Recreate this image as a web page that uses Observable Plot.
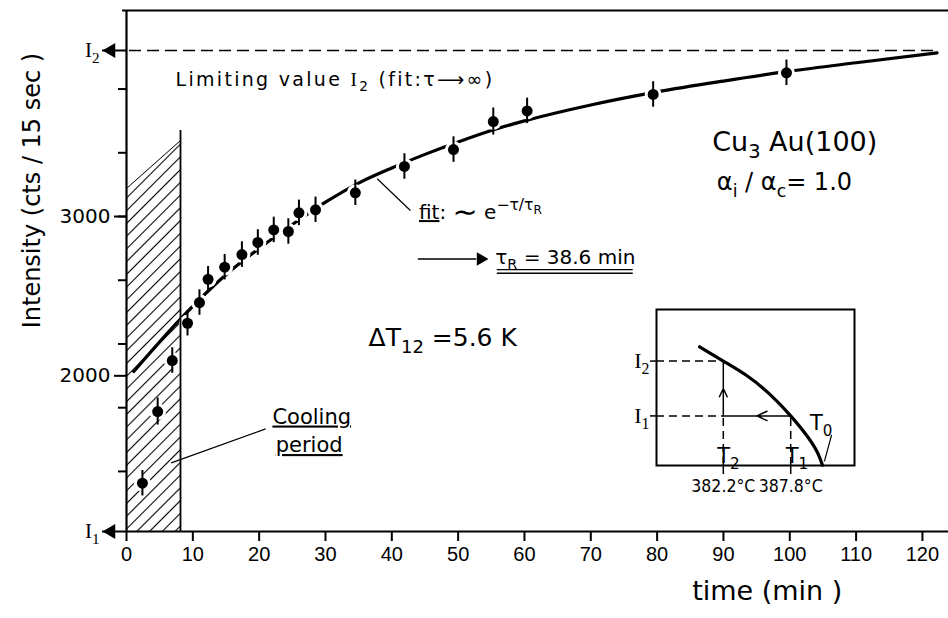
<!DOCTYPE html>
<html><head><meta charset="utf-8">
<script src="https://cdn.jsdelivr.net/npm/d3@7"></script>
<script src="https://cdn.jsdelivr.net/npm/@observablehq/plot@0.6"></script>
<style>
body{margin:0;background:#fff}
#chart{position:relative;width:948px;height:618px;overflow:hidden}
#inset{position:absolute;left:620px;top:300px}
</style>
</head><body><div id="chart"><div id="inset"></div></div>
<script>
// ---- data ----
const times  = [2.4, 4.7, 6.9, 9.2, 11.0, 12.3, 14.8, 17.4, 19.8, 22.2, 24.4, 26.0, 28.5, 34.5, 41.9, 49.3, 55.3, 60.4, 79.4, 99.5];
const counts = [1326, 1776, 2096, 2330, 2460, 2606, 2682, 2761, 2837, 2916, 2906, 3023, 3042, 3149, 3314, 3420, 3596, 3663, 3766, 3902];
const errors = [80, 85, 80, 80, 80, 80, 80, 80, 80, 80, 80, 80, 80, 80, 80, 80, 85, 80, 80, 80];

const fitT = [1.1, 8.4, 12, 16, 20, 25, 30, 35, 40, 45, 50, 55, 60, 70, 80, 90, 100, 110, 122.2];
const fitI = [2027, 2368, 2520, 2670, 2800, 2950, 3090, 3210, 3305, 3390, 3468, 3540, 3600, 3700, 3782, 3850, 3912, 3965, 4027];

const I1 = 1023, I2 = 4042;
const xTicks = [0, 10, 20, 30, 40, 50, 60, 70, 80, 90, 100, 110, 120];
const yMajor = [2000, 3000];
const yMinor = [1400, 1800, 2200, 2600, 3000, 3400, 3800];
const coolingT = [0, 8.14];
const coolingTop = [3176, 3477];
const coolingBarTop = 3540;

// inset (schematic intensity vs temperature)
const insetT = [380.23, 382.2, 384.2, 386.14, 387.8, 389.19, 390.02, 390.44];
const insetI = [2.26, 2.0, 1.727, 1.38, 1.0, 0.624, 0.333, 0.1];
const T2 = 382.2, T1 = 387.8;
const tempLabels = ["382.2°C", "387.8°C"];

// ---- build tables ----
const points = times.map((t, i) => ({t, c: counts[i], lo: counts[i] - errors[i], hi: counts[i] + errors[i]}));
const fit = fitT.map((t, i) => ({t, c: fitI[i]}));
const cooling = coolingT.map((t, i) => ({t, top: coolingTop[i]}));
const insetCurve = insetT.map((T, i) => ({T, I: insetI[i]}));

const xDomain = [0, 123.93], yDomain = [I1, 4293];

const annotations = [
  {text: "Limiting value @{I}_{2} (fit:τ⟶∞)", x: 7.4, y: 3860, size: 19, ls: 2.3},
  {text: "|{fit}: *{∼} e^{−τ/τ}~{R}", x: 44.1, y: 3024, size: 20},
  {text: "τ_{R} = 38.6 min", x: 55.6, y: 2745, size: 20},
  {text: "Cu_{3} Au(100)", x: 88.3, y: 3468, size: 27},
  {text: "α_{i} / α_{c}= 1.0", x: 89.0, y: 3216, size: 24},
  {text: "ΔT_{12} =5.6 K", x: 36.5, y: 2238, size: 25},
  {text: "|{Cooling}", x: 22.0, y: 1743, size: 21},
  {text: "|{period}", x: 22.5, y: 1564, size: 21}
];

const main = Plot.plot({
  width: 948, height: 618,
  marginLeft: 126, marginRight: 0, marginTop: 10, marginBottom: 87,
  x: {domain: xDomain, label: null},
  y: {domain: yDomain, label: null},
  style: {fontFamily: "DejaVu Sans", background: "white", color: "black", overflow: "visible"},
  marks: [
    Plot.areaY(cooling, {x: "t", y1: I1, y2: "top", fill: "url(#hatch)"}),
    Plot.line(cooling, {x: "t", y: "top", stroke: "black", strokeWidth: 1}),
    Plot.line(fit, {x: "t", y: "c", curve: "monotone-x", stroke: "black", strokeWidth: 3.2}),
    Plot.dot(points, {x: "t", y: "c", r: 8.5, fill: "white"}),
    Plot.ruleX([coolingT[1]], {y1: I1, y2: coolingBarTop, strokeWidth: 1.8}),
    Plot.ruleX(points, {x: "t", y1: "lo", y2: "hi", strokeWidth: 2}),
    Plot.dot(points, {x: "t", y: "c", r: 5.5, fill: "black"}),
    Plot.ruleY([I2], {x1: 0.45, x2: 122.2, strokeDasharray: "12,6", strokeWidth: 1.6}),
    // frame
    Plot.ruleY([yDomain[1]], {x1: -0.6, x2: xDomain[1], strokeWidth: 2.2}),
    Plot.ruleX([0], {strokeWidth: 2.2}),
    Plot.ruleY([yDomain[0]], {strokeWidth: 2.2}),
    // axes
    Plot.axisX(xTicks, {tickSize: 10, tickPadding: 5, fontSize: 20, fontFamily: "Liberation Sans", tickFormat: d => String(d), strokeWidth: 2, label: null}),
    Plot.axisY(yMinor, {tickSize: 8, tickFormat: () => "", strokeWidth: 2, label: null}),
    Plot.axisY(yMajor, {tickSize: 12, tickPadding: 4, fontSize: 20, tickFormat: d => String(d), strokeWidth: 2, label: null}),
    Plot.axisY([I1, I2], {tickSize: 24, tickPadding: 3, fontSize: 21, fontFamily: "Liberation Serif",
      tickFormat: d => d === I1 ? "I_{1}" : "I_{2}", strokeWidth: 2, label: null}),
    Plot.dot([I1, I2], {x: 0, y: d => d, symbol: "triangle", rotate: -90, r: 5.5, dx: -15.5, fill: "black"}),
    // axis titles
    Plot.text([{label: "Intensity (cts / 15 sec )", y: 3163}], {frameAnchor: "left", textAnchor: "middle", y: "y", text: "label", rotate: -90, dx: -94.5, fontSize: 24}),
    Plot.text([{label: "time (min )", x: 96.6}], {frameAnchor: "bottom", x: "x", text: "label", dy: 68.4, fontSize: 27}),
    // annotations
    ...annotations.map(a => Plot.text([a], {x: "x", y: "y", text: "text", fontSize: a.size, textAnchor: "start"})),
    Plot.ruleY([2734], {x1: 44.0, x2: 52.8, strokeWidth: 1.5}),
    Plot.dot([2734], {x: 53.4, y: d => d, symbol: "triangle", rotate: 90, r: 5, fill: "black"}),
    Plot.ruleY([2667, 2644], {x1: 55.9, x2: 76.4, strokeWidth: 1.3}),
    Plot.link([{x1: 37.8, y1: 3237, x2: 42.8, y2: 3038}, {x1: 6.74, y1: 1454, x2: 20.97, y2: 1667}],
      {x1: "x1", y1: "y1", x2: "x2", y2: "y2", strokeWidth: 1.2})
  ]
});

const inset = Plot.plot({
  width: 240, height: 205,
  marginLeft: 36, marginRight: 6, marginTop: 9, marginBottom: 40,
  x: {domain: [376.65, 393.1], label: null},
  y: {domain: [0.096, 2.94], label: null},
  style: {fontFamily: "DejaVu Sans", background: "none", color: "black", overflow: "visible"},
  marks: [
    Plot.frame({fill: "white"}),
    Plot.ruleY([2, 1], {x1: 376.65, x2: T2, strokeDasharray: "8,5", strokeWidth: 1.5}),
    Plot.ruleX([T2, T1], {y1: 0.096, y2: 1, strokeDasharray: "8,5", strokeWidth: 1.5}),
    Plot.arrow([{x1: T1, x2: 385.0, y1: 1, y2: 1}], {x1: "x1", x2: "x2", y1: "y1", y2: "y2", headLength: 11, headAngle: 50, strokeWidth: 1.5}),
    Plot.ruleY([1], {x1: 385.1, x2: T2, strokeWidth: 1.5}),
    Plot.arrow([{x1: T2, x2: T2, y1: 1, y2: 1.5}], {x1: "x1", x2: "x2", y1: "y1", y2: "y2", headLength: 11, headAngle: 50, strokeWidth: 1.5}),
    Plot.ruleX([T2], {y1: 1.5, y2: 2, strokeWidth: 1.5}),
    Plot.line(insetCurve, {x: "T", y: "I", curve: "natural", strokeWidth: 3.2}),
    Plot.frame({strokeWidth: 2}),
    Plot.axisY([1, 2], {tickSize: 6, tickPadding: 1, fontSize: 22, fontFamily: "Liberation Serif",
      tickFormat: d => d === 1 ? "I_{1}" : "I_{2}", strokeWidth: 1.5, label: null}),
    Plot.axisX([T2, T1], {tickSize: 9, tickPadding: 5, fontSize: 17.5, fontFamily: "DejaVu Sans Condensed, DejaVu Sans",
      tickFormat: d => d === T2 ? tempLabels[0] : tempLabels[1], strokeWidth: 1.5, label: null}),
    Plot.text([{s: "T_{2}", x: 381.7, y: 0.27}, {s: "T_{1}", x: 387.38, y: 0.27}, {s: "T_{0}", x: 389.4, y: 0.87}],
      {x: "x", y: "y", text: "s", fontSize: 21, textAnchor: "start"}),
    Plot.link([{x1: 391.2, y1: 0.655, x2: 390.6, y2: 0.17}], {x1: "x1", y1: "y1", x2: "x2", y2: "y2", strokeWidth: 1.2})
  ]
});

const chartDiv = document.getElementById("chart");
chartDiv.insertBefore(main, chartDiv.firstChild);
document.getElementById("inset").appendChild(inset);

// hatch pattern
const NS = "http://www.w3.org/2000/svg";
const defs = document.createElementNS(NS, "defs");
defs.innerHTML = '<pattern id="hatch" patternUnits="userSpaceOnUse" width="9" height="9" patternTransform="rotate(45)"><line x1="4.5" y1="-1" x2="4.5" y2="10" stroke="black" stroke-width="1.1"/></pattern>';
main.insertBefore(defs, main.firstChild);

// letter spacing
for (const a of annotations) if (a.ls) {
  main.querySelectorAll("text").forEach(el => { if (el.textContent === a.text) el.setAttribute("letter-spacing", a.ls); });
}

// rich text: _{} sub, ^{} sup, ~{} sub within sup, |{} underline, @{} serif, *{} enlarged
function richify(root) {
  root.querySelectorAll("text").forEach(el => {
    const s = el.textContent;
    if (!/[_^|~@*]\{/.test(s)) return;
    const fs = parseFloat(getComputedStyle(el).fontSize) || 16;
    el.textContent = "";
    const re = /([_^|~@*])\{([^}]*)\}|([^_^|~@*]+)/g;
    let cur = 0, m;
    while ((m = re.exec(s))) {
      const ts = document.createElementNS(NS, "tspan");
      let off = 0, scale = 1, ul = false, serif = false, text;
      if (m[3] !== undefined) text = m[3];
      else {
        text = m[2];
        if (m[1] === "_") { off = 0.28; scale = 0.72; }
        else if (m[1] === "^") { off = -0.45; scale = 0.78; }
        else if (m[1] === "~") { off = -0.24; scale = 0.6; }
        else if (m[1] === "*") { off = 0.14; scale = 1.5; }
        else if (m[1] === "|") ul = true;
        else if (m[1] === "@") serif = true;
      }
      ts.textContent = text;
      const d = (off - cur) * fs;
      if (d) ts.setAttribute("dy", d.toFixed(2));
      cur = off;
      if (scale !== 1) ts.setAttribute("font-size", (fs * scale).toFixed(2));
      if (ul) ts.setAttribute("text-decoration", "underline");
      if (serif) ts.setAttribute("font-family", "Liberation Serif");
      el.appendChild(ts);
    }
  });
}
richify(main);
richify(inset);
</script></body></html>
